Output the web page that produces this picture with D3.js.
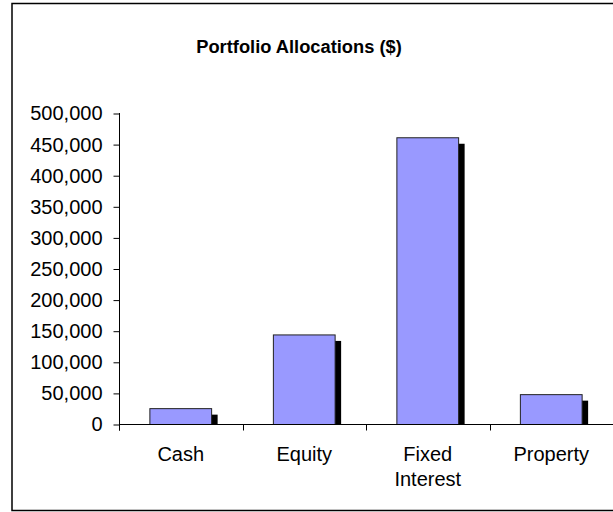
<!DOCTYPE html>
<html>
<head>
<meta charset="utf-8">
<script src="https://cdn.jsdelivr.net/npm/d3@7"></script>
<style>
  html, body { margin: 0; padding: 0; background: #fff; }
  svg { display: block; font-family: "Liberation Sans", Arial, sans-serif; }
</style>
</head>
<body>
<svg id="chart" width="613" height="512"></svg>
<script>
const title = "Portfolio Allocations ($)";
const categories = ["Cash", "Equity", "Fixed Interest", "Property"];
const categoryLines = [["Cash"], ["Equity"], ["Fixed", "Interest"], ["Property"]];
const values = [25500, 144000, 461000, 48000];
const yTicks = [0, 50000, 100000, 150000, 200000, 250000, 300000, 350000, 400000, 450000, 500000];

const svg = d3.select("#chart");
const W = 613, H = 512;
const plot = { left: 119, right: 613, top: 113.5, bottom: 424.5 };

// outer frame
svg.append("rect")
  .attr("x", 12).attr("y", 3.5)
  .attr("width", 640).attr("height", 507)
  .attr("fill", "#fff").attr("stroke", "#000").attr("stroke-width", 1.5);

// title
svg.append("text")
  .attr("x", 299).attr("y", 53)
  .attr("text-anchor", "middle")
  .attr("font-size", 18.3).attr("font-weight", "bold")
  .text(title);

const y = d3.scaleLinear().domain([0, 500000]).range([plot.bottom, plot.top]);
const xBand = d3.scaleBand().domain(categories).range([plot.left, plot.right]).paddingInner(0).paddingOuter(0);
const xBar = d3.scaleBand().domain(categories).range([plot.left, plot.right]).paddingInner(0.5).paddingOuter(0.25);

const g = svg.append("g");
const shadow = 6;

// shadows
g.selectAll("rect.shadow").data(categories).enter().append("rect")
  .attr("class", "shadow")
  .attr("x", (d) => xBar(d) + shadow)
  .attr("y", (d, i) => y(values[i]) + shadow)
  .attr("width", xBar.bandwidth())
  .attr("height", (d, i) => Math.max(0, plot.bottom - y(values[i]) - shadow))
  .attr("fill", "#000");

// bars
g.selectAll("rect.bar").data(categories).enter().append("rect")
  .attr("class", "bar")
  .attr("x", (d) => xBar(d))
  .attr("y", (d, i) => y(values[i]))
  .attr("width", xBar.bandwidth())
  .attr("height", (d, i) => plot.bottom - y(values[i]))
  .attr("fill", "#9999FF")
  .attr("stroke", "#222").attr("stroke-width", 1);

// y axis
const yAxis = d3.axisLeft(y).tickValues(yTicks).tickFormat(d3.format(",")).tickSize(6).tickPadding(11);
const ya = svg.append("g").attr("transform", `translate(${plot.left + 0.5},0)`).call(yAxis);
ya.select(".domain").remove();
ya.append("line").attr("x1", 0).attr("x2", 0).attr("y1", plot.top - 0.5).attr("y2", plot.bottom + 6).attr("stroke", "#000");
ya.selectAll(".tick line").attr("stroke", "#000");
ya.selectAll(".tick text").attr("font-size", 20).attr("fill", "#000").attr("font-family", "Liberation Sans, Arial, sans-serif");

// x axis baseline and ticks
svg.append("line")
  .attr("x1", plot.left).attr("x2", plot.right)
  .attr("y1", plot.bottom).attr("y2", plot.bottom)
  .attr("stroke", "#000");
const boundaries = categories.map((c) => xBand(c)).concat([plot.right]);
svg.selectAll("line.xtick").data(boundaries).enter().append("line")
  .attr("class", "xtick")
  .attr("x1", (d) => Math.round(d) + 0.5).attr("x2", (d) => Math.round(d) + 0.5)
  .attr("y1", plot.bottom).attr("y2", plot.bottom + 6)
  .attr("stroke", "#000");

// category labels
const lab = svg.selectAll("text.cat").data(categories).enter().append("text")
  .attr("class", "cat")
  .attr("text-anchor", "middle")
  .attr("font-size", 20)
  .attr("x", (d) => xBand(d) + xBand.bandwidth() / 2)
  .attr("y", 461);
lab.each(function (d, i) {
  const t = d3.select(this);
  categoryLines[i].forEach((line, k) => {
    t.append("tspan")
      .attr("x", xBand(d) + xBand.bandwidth() / 2)
      .attr("dy", k === 0 ? 0 : 25)
      .text(line);
  });
});
</script>
</body>
</html>
